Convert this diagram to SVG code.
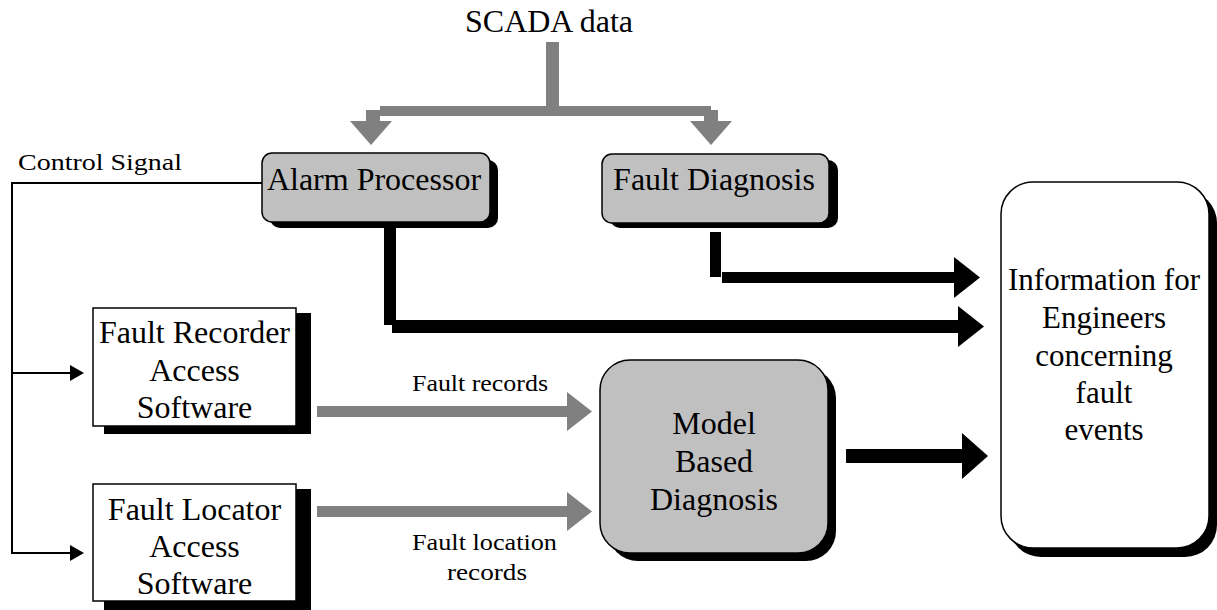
<svg xmlns="http://www.w3.org/2000/svg" width="1217" height="610" viewBox="0 0 1217 610">
<style>
text{font-family:"Liberation Serif","Times New Roman",serif;fill:#000}
.t{font-size:32px;text-anchor:middle}
.ti{font-size:31px;text-anchor:middle}
.s{font-size:24px}
.box{fill:#c0c0c0;stroke:#000;stroke-width:1.5}
.wbox{fill:#fff;stroke:#000;stroke-width:1.5}
.sh{fill:#000}
.gray{fill:#808080}
.blk{fill:#000}
.ctl{fill:none;stroke:#000;stroke-width:2}
</style>
<rect width="1217" height="610" fill="#fff"/>
<g id="connectors">
  <!-- SCADA gray distribution -->
  <rect class="gray" x="546" y="42" width="13" height="66"/>
  <rect class="gray" x="380" y="106" width="331" height="10"/>
  <rect class="gray" x="366" y="110" width="14" height="11"/>
  <rect class="gray" x="704" y="110" width="14" height="11"/>
  <polygon class="gray" points="350,121 392,121 371,145"/>
  <polygon class="gray" points="690,121 732,121 711,145"/>
  <!-- Control signal -->
  <polyline class="ctl" points="262,183 12,183 12,553 72,553"/>
  <line class="ctl" x1="12" y1="373" x2="72" y2="373"/>
  <polygon class="blk" points="70,365 84,373 70,381"/>
  <polygon class="blk" points="70,545 84,553 70,561"/>
  <!-- Alarm -> Info -->
  <rect class="blk" x="384" y="228" width="12" height="97"/>
  <rect class="blk" x="392" y="320" width="567" height="13"/>
  <polygon class="blk" points="958,306 984,326.5 958,347"/>
  <!-- Fault Diagnosis -> Info -->
  <rect class="blk" x="710" y="232" width="11" height="45"/>
  <rect class="blk" x="722" y="272" width="233" height="11"/>
  <polygon class="blk" points="954,257 980,277.5 954,298"/>
  <!-- Model -> Info -->
  <rect class="blk" x="846" y="449" width="117" height="14"/>
  <polygon class="blk" points="962,433 988,456 962,479"/>
  <!-- Fault records -->
  <rect class="gray" x="317" y="406" width="251" height="11"/>
  <polygon class="gray" points="567,392 592,411.5 567,431"/>
  <text class="s" x="412" y="391" textLength="136" lengthAdjust="spacingAndGlyphs">Fault records</text>
  <!-- Fault location records -->
  <rect class="gray" x="317" y="506" width="251" height="11"/>
  <polygon class="gray" points="567,492 592,511.5 567,531"/>
  <text class="s" x="412" y="550" textLength="145" lengthAdjust="spacingAndGlyphs">Fault location</text>
  <text class="s" x="447" y="580" textLength="80" lengthAdjust="spacingAndGlyphs">records</text>
  <text class="s" x="18" y="170" textLength="164" lengthAdjust="spacingAndGlyphs">Control Signal</text>
</g>
<g id="scada">
  <text class="t" x="549" y="32">SCADA data</text>
</g>
<g id="alarm-processor">
  <rect class="sh" x="270" y="160" width="228" height="68" rx="10"/>
  <rect class="box" x="262" y="153" width="228" height="69" rx="10"/>
  <text class="t" x="374" y="190">Alarm Processor</text>
</g>
<g id="fault-diagnosis">
  <rect class="sh" x="610" y="160" width="228" height="68" rx="10"/>
  <rect class="box" x="602" y="154" width="227" height="69" rx="10"/>
  <text class="t" x="714" y="190">Fault Diagnosis</text>
</g>
<g id="fault-recorder">
  <rect class="sh" x="104" y="313" width="207" height="121"/>
  <rect class="wbox" x="93" y="308" width="203" height="118"/>
  <text class="t" x="194.5" y="343">Fault Recorder</text>
  <text class="t" x="194.5" y="381">Access</text>
  <text class="t" x="194.5" y="418">Software</text>
</g>
<g id="fault-locator">
  <rect class="sh" x="104" y="489" width="207" height="121"/>
  <rect class="wbox" x="93" y="484" width="203" height="117"/>
  <text class="t" x="194.5" y="520">Fault Locator</text>
  <text class="t" x="194.5" y="557">Access</text>
  <text class="t" x="194.5" y="594">Software</text>
</g>
<g id="model-based-diagnosis">
  <rect class="sh" x="608" y="368" width="228" height="193" rx="30"/>
  <rect class="box" x="600" y="360" width="228" height="193" rx="30"/>
  <text class="t" x="714" y="434">Model</text>
  <text class="t" x="714" y="472">Based</text>
  <text class="t" x="714" y="510">Diagnosis</text>
</g>
<g id="information">
  <rect class="sh" x="1009" y="191" width="208" height="366" rx="32"/>
  <rect class="wbox" x="1001" y="182" width="208" height="366" rx="32"/>
  <text class="ti" x="1104" y="290">Information for</text>
  <text class="ti" x="1104" y="328">Engineers</text>
  <text class="ti" x="1104" y="366">concerning</text>
  <text class="ti" x="1104" y="403">fault</text>
  <text class="ti" x="1104" y="440">events</text>
</g>
</svg>
